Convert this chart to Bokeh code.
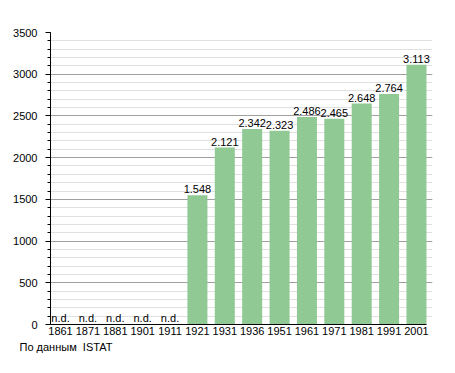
from bokeh.plotting import figure
from bokeh.models import ColumnDataSource, Range1d, FixedTicker, SingleIntervalTicker, Title
from bokeh.core.properties import value
from bokeh.embed import file_html
from bokeh.resources import INLINE

years = ["1861", "1871", "1881", "1901", "1911", "1921", "1931", "1936", "1951", "1961", "1971", "1981", "1991", "2001"]
population = [None, None, None, None, None, 1548, 2121, 2342, 2323, 2486, 2465, 2648, 2764, 3113]
y_ticks_major = 500
source_note = "По данным\u00a0 ISTAT"

FONT = "Liberation Sans"
BAR_W = 0.731
EXTRA_RIGHT = 0.22

idx = list(range(len(years)))
have_idx = [i for i, v in zip(idx, population) if v is not None]
have_vals = [v for v in population if v is not None]
have_labels = [f"{v:,}".replace(",", ".") for v in have_vals]
nd_idx = [i for i, v in zip(idx, population) if v is None]

x_lo = -BAR_W / 2
x_hi = len(years) - 1 + BAR_W / 2

p = figure(frame_width=382, frame_height=292,
           x_range=Range1d(x_lo, x_hi + EXTRA_RIGHT),
           y_range=Range1d(0, 3500), output_backend="svg", toolbar_location=None,
           min_border_left=50, min_border_top=32, min_border_bottom=33, min_border_right=7)
p.outline_line_color = None

src = ColumnDataSource(dict(x=have_idx, top=have_vals, lab=have_labels))
p.vbar(x="x", top="top", width=BAR_W, source=src, fill_color="#90c994", line_color=None)
p.text(x="x", y="top", text="lab", source=src, text_align="center", text_baseline="alphabetic",
       y_offset=-6, text_font=value(FONT), text_font_size="11px", text_color="#000000")

nd_src = ColumnDataSource(dict(x=nd_idx, y=[0] * len(nd_idx), t=["n.d."] * len(nd_idx)))
p.text(x="x", y="y", text="t", source=nd_src, text_align="center", text_baseline="alphabetic",
       y_offset=-7, text_font=value(FONT), text_font_size="11px", text_color="#000000")

p.yaxis.ticker = SingleIntervalTicker(interval=y_ticks_major, num_minor_ticks=5)
p.yaxis.major_tick_in = 0
p.yaxis.major_tick_out = 5
p.yaxis.minor_tick_in = 0
p.yaxis.minor_tick_out = 3
p.yaxis.axis_line_color = "#000000"
p.yaxis.major_tick_line_color = "#000000"
p.yaxis.minor_tick_line_color = "#000000"
p.yaxis.major_label_text_font = FONT
p.yaxis.major_label_text_font_size = "11px"
p.yaxis.major_label_text_color = "#000000"
p.yaxis.major_label_standoff = 8

p.xaxis.ticker = FixedTicker(ticks=idx)
p.xaxis.major_label_overrides = {i: y for i, y in zip(idx, years)}
p.xaxis.bounds = (x_lo, x_hi)
p.xaxis.major_tick_in = 0
p.xaxis.major_tick_out = 0
p.xaxis.minor_tick_line_color = None
p.xaxis.major_tick_line_color = None
p.xaxis.axis_line_color = "#000000"
p.xaxis.major_label_text_font = FONT
p.xaxis.major_label_text_font_size = "11px"
p.xaxis.major_label_text_color = "#000000"
p.xaxis.major_label_standoff = 2

p.xgrid.grid_line_color = None
p.ygrid.grid_line_color = "#a0a0a0"
p.ygrid.minor_grid_line_color = "#e0e0e0"
p.ygrid.level = "underlay"

note = Title(text=source_note, align="left", offset=-31, standoff=3,
             text_font=FONT, text_font_size="11px", text_font_style="normal", text_color="#000000")
p.add_layout(note, "below")

open("out.html", "w").write(file_html(p, INLINE))
